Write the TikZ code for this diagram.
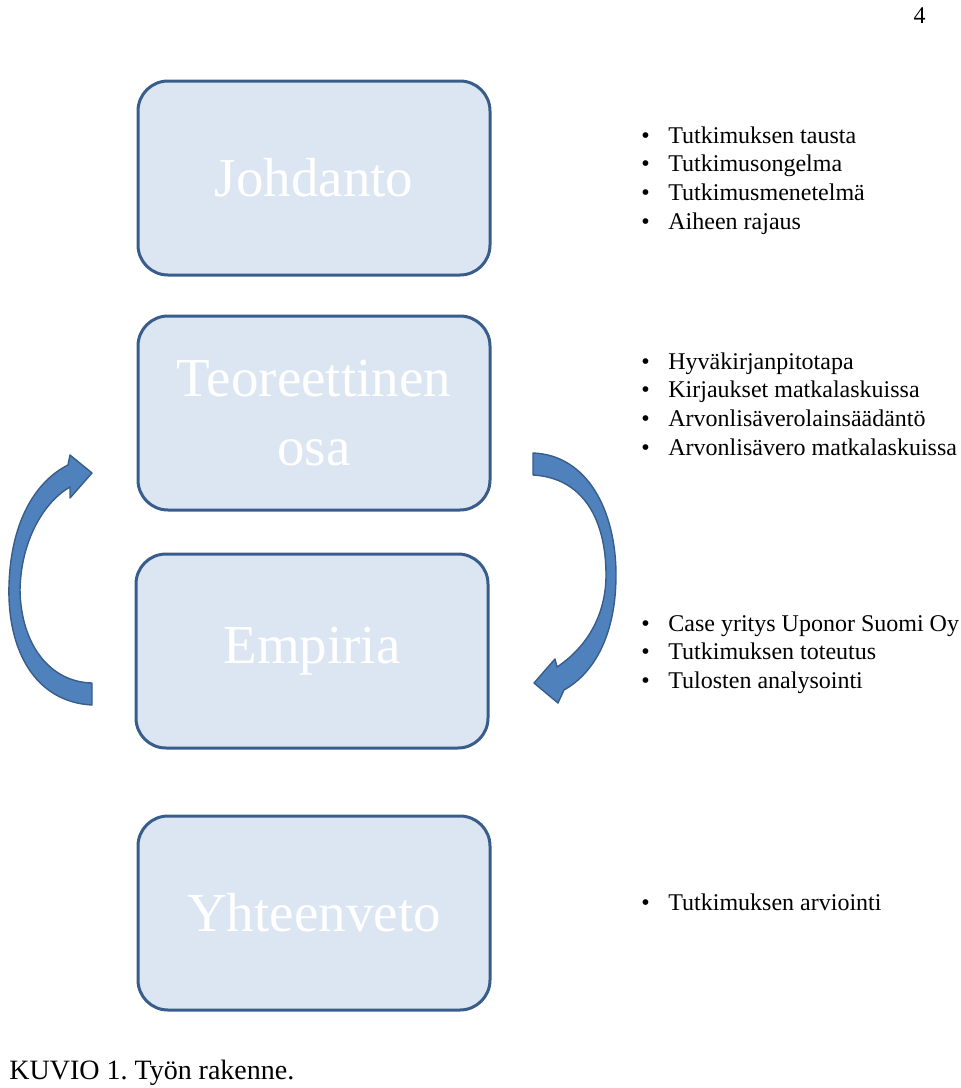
\documentclass[tikz,border=0pt]{standalone}
\usepackage{fontspec}
\setmainfont{Liberation Serif}
\definecolor{laatikkotausta}{HTML}{DCE6F2}
\definecolor{laatikkoreuna}{HTML}{385D8A}
\definecolor{nuolisini}{HTML}{4F81BD}
\tikzset{
  laatikko/.style={draw=laatikkoreuna, line width=1.5pt, fill=laatikkotausta,
    rounded corners=15pt, minimum width=176pt, minimum height=97pt,
    text=white, align=center, font=\fontsize{27.5}{34.5}\selectfont},
  kohta/.style={anchor=base west, inner sep=0pt, font=\fontsize{12}{14.5}\selectfont},
  nuoli/.style={fill=nuolisini, draw=laatikkoreuna, line width=0.7pt, line join=round}
}
\newcommand{\luettelo}[1]{\makebox[13.5pt][l]{\textbullet}#1}
\begin{document}
\begin{tikzpicture}[x=0.5pt,y=-0.5pt]
  \useasboundingbox (0,0) rectangle (960,1088);
  \node (sivu) [anchor=base east, inner sep=0pt, font=\fontsize{12}{14}\selectfont] at (926,23) {4};
  % laatikot
  \node (johdanto) [laatikko] at (314,178) {Johdanto};
  \node (teoria) [laatikko] at (314,413) {Teoreettinen\\osa};
  \node (empiria) [laatikko] at (312,651) {Empiria};
  \node (yhteenveto) [laatikko] at (314,913) {Yhteenveto};
  % luettelot
  \foreach \teksti [count=\i] in {Tutkimuksen tausta, Tutkimusongelma, Tutkimusmenetelmä, Aiheen rajaus}
    \node (johd-\i) [kohta] at (641,{114.3+28.7*\i}) {\luettelo{\teksti}};
  \foreach \teksti [count=\i] in {Hyväkirjanpitotapa, Kirjaukset matkalaskuissa, Arvonlisäverolainsäädäntö, Arvonlisävero matkalaskuissa}
    \node (teor-\i) [kohta] at (641,{340.3+28.7*\i}) {\luettelo{\teksti}};
  \foreach \teksti [count=\i] in {Case yritys Uponor Suomi Oy, Tutkimuksen toteutus, Tulosten analysointi}
    \node (empi-\i) [kohta] at (641,{602.3+28.7*\i}) {\luettelo{\teksti}};
  \node (yhte-1) [kohta] at (641,910) {\luettelo{Tutkimuksen arviointi}};
  % kaarinuolet
  \draw[nuoli] (92,705) .. controls (35,702) and (7,650) .. (9,585)
    .. controls (11,518) and (38,480) .. (68,465) -- (70,455) -- (92,473) -- (70,498) -- (70,487)
    .. controls (44,502) and (21,540) .. (20,590) .. controls (21,645) and (50,682) .. (92,683) -- cycle;
  \draw[nuoli] (533,453) .. controls (587,455) and (616,510) .. (616,575)
    .. controls (616,632) and (596,672) .. (564,690) -- (558,703) -- (534,683) -- (555,659) -- (557,667)
    .. controls (587,647) and (606,615) .. (606,575) .. controls (606,522) and (585,478) .. (533,475) -- cycle;
  \node (kuvio) [anchor=base west, inner sep=0pt, font=\fontsize{14}{16}\selectfont] at (9,1079) {KUVIO 1.\ Työn rakenne.};
\end{tikzpicture}
\end{document}
